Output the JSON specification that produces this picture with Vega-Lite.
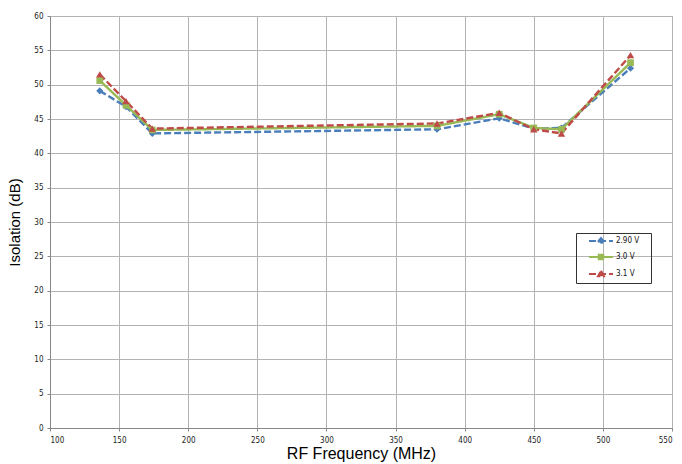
{
  "$schema": "https://vega.github.io/schema/vega-lite/v6.json",
  "width": 622,
  "height": 412,
  "autosize": "none",
  "padding": {"left": 50, "top": 16, "right": 10, "bottom": 36},
  "background": "white",
  "config": {
    "view": {"stroke": "#a6a6a6", "strokeWidth": 1},
    "axis": {
      "gridColor": "#b3b3b3",
      "gridOpacity": 1,
      "domainColor": "#888888",
      "tickColor": "#888888",
      "tickSize": 3,
      "labelFont": "DejaVu Sans Condensed, Liberation Sans Narrow, sans-serif",
      "labelFontSize": 8,
      "labelColor": "#222",
      "titleFont": "Liberation Sans, Arial, sans-serif",
      "titleFontWeight": "normal",
      "titleColor": "#000"
    }
  },
  "data": {
    "values": [
      {"f": 136, "v": 49.1, "s": "2.90 V"},
      {"f": 155, "v": 46.8, "s": "2.90 V"},
      {"f": 174, "v": 42.9, "s": "2.90 V"},
      {"f": 380, "v": 43.5, "s": "2.90 V"},
      {"f": 425, "v": 45.1, "s": "2.90 V"},
      {"f": 450, "v": 43.6, "s": "2.90 V"},
      {"f": 470, "v": 43.7, "s": "2.90 V"},
      {"f": 520, "v": 52.4, "s": "2.90 V"},
      {"f": 136, "v": 50.6, "s": "3.0 V"},
      {"f": 155, "v": 47.0, "s": "3.0 V"},
      {"f": 174, "v": 43.4, "s": "3.0 V"},
      {"f": 380, "v": 44.0, "s": "3.0 V"},
      {"f": 425, "v": 45.7, "s": "3.0 V"},
      {"f": 450, "v": 43.7, "s": "3.0 V"},
      {"f": 470, "v": 43.5, "s": "3.0 V"},
      {"f": 520, "v": 53.2, "s": "3.0 V"},
      {"f": 136, "v": 51.5, "s": "3.1 V"},
      {"f": 155, "v": 47.6, "s": "3.1 V"},
      {"f": 174, "v": 43.6, "s": "3.1 V"},
      {"f": 380, "v": 44.35, "s": "3.1 V"},
      {"f": 425, "v": 45.9, "s": "3.1 V"},
      {"f": 450, "v": 43.5, "s": "3.1 V"},
      {"f": 470, "v": 42.9, "s": "3.1 V"},
      {"f": 520, "v": 54.3, "s": "3.1 V"}
    ]
  },
  "encoding": {
    "x": {
      "field": "f", "type": "quantitative",
      "scale": {"domain": [100, 550], "nice": false},
      "axis": {"values": [100,150,200,250,300,350,400,450,500,550], "title": "RF Frequency (MHz)", "titleFontSize": 16, "titlePadding": 1, "labelPadding": 5}
    },
    "y": {
      "field": "v", "type": "quantitative",
      "scale": {"domain": [0, 60], "nice": false},
      "axis": {"values": [0,5,10,15,20,25,30,35,40,45,50,55,60], "title": "Isolation (dB)", "titleFontSize": 15, "titlePadding": 11, "labelPadding": 4}
    },
    "color": {
      "field": "s", "type": "nominal",
      "scale": {"domain": ["2.90 V", "3.0 V", "3.1 V"], "range": ["#4a7ebb", "#98b954", "#be4b48"]},
      "legend": {
        "title": "\u00a0", "titleOrient": "right", "titlePadding": 10, "titleFontSize": 4,
        "orient": "none", "legendX": 526, "legendY": 217,
        "strokeColor": "#333", "padding": 2, "labelFontSize": 8,
        "labelColor": "#111",
        "labelFont": "DejaVu Sans Condensed, Liberation Sans Narrow, sans-serif",
        "symbolSize": 100, "rowPadding": 2, "symbolStrokeWidth": 2,
        "symbolOffset": 17, "labelOffset": 9,
        "encode": {
          "symbols": {
            "update": {
              "shape": {"signal": "datum.value === '2.90 V' ? 'M-2.4,0H2.4M0,-0.6L0.5,0L0,0.6L-0.5,0Z' : datum.value === '3.0 V' ? 'M-2.4,0H2.4M-0.45,-0.45H0.45V0.45H-0.45Z' : 'M-2.4,0H2.4M0,-0.65L0.6,0.45L-0.6,0.45Z'"},
              "stroke": {"scale": "color", "field": "value"},
              "fill": {"scale": "color", "field": "value"},
              "strokeDash": {"signal": "datum.value === '3.0 V' ? [1,0] : [5,2]"},
              "strokeWidth": {"value": 2},
              "fillOpacity": {"value": 1},
              "strokeOpacity": {"value": 1},
              "opacity": {"value": 1}
            }
          }
        }
      }
    }
  },
  "layer": [
    {
      "mark": {"type": "line", "strokeWidth": 2.4},
      "encoding": {
        "strokeDash": {
          "field": "s", "type": "nominal",
          "scale": {"domain": ["2.90 V", "3.0 V", "3.1 V"], "range": [[7, 3], [1, 0], [7, 3]]},
          "legend": null
        }
      }
    },
    {
      "transform": [{"filter": "datum.s === '2.90 V'"}],
      "mark": {"type": "point", "filled": true, "opacity": 1, "size": 50, "shape": "diamond"}
    },
    {
      "transform": [{"filter": "datum.s === '3.0 V'"}],
      "mark": {"type": "point", "filled": true, "opacity": 1, "size": 45, "shape": "square"}
    },
    {
      "transform": [{"filter": "datum.s === '3.1 V'"}],
      "mark": {"type": "point", "filled": true, "opacity": 1, "size": 55, "shape": "triangle-up"}
    }
  ]
}
